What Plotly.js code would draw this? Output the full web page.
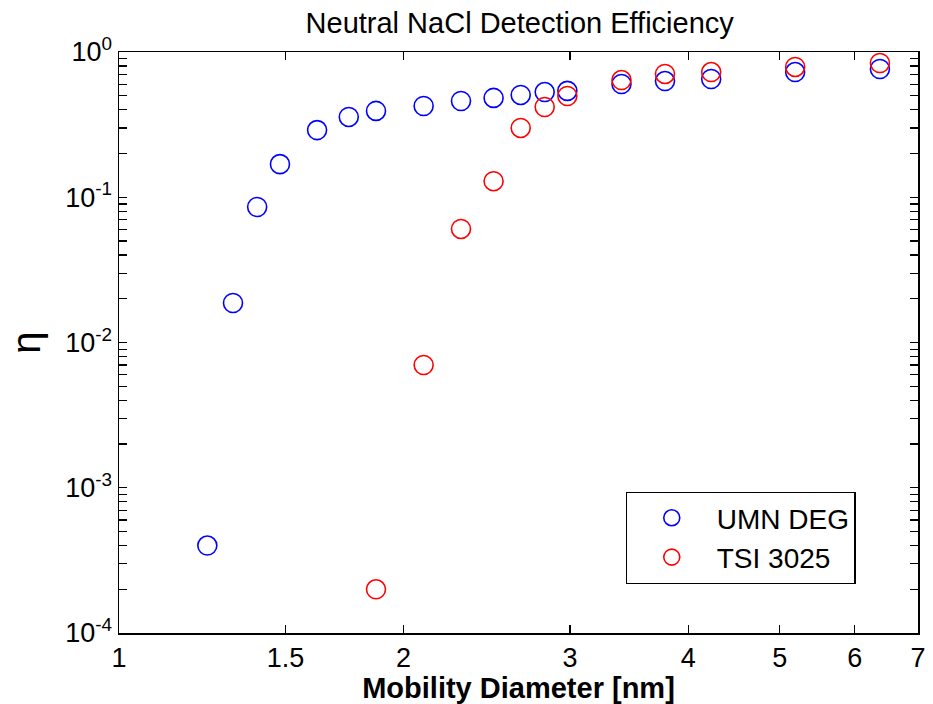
<!DOCTYPE html>
<html>
<head>
<meta charset="utf-8">
<script src="https://cdn.plot.ly/plotly-3.0.1.min.js"></script>
<style>html,body{margin:0;padding:0;background:#fff;}#chart{width:933px;height:704px;}</style>
</head>
<body>
<div id="chart"></div>
<script>
// Data
const umnDiameter = [1.24, 1.32, 1.40, 1.48, 1.62, 1.75, 1.87, 2.10, 2.30, 2.49, 2.66, 2.82, 2.98, 3.40, 3.78, 4.23, 5.19, 6.38];
const umnEff      = [0.0004, 0.0187, 0.0857, 0.169, 0.290, 0.357, 0.393, 0.425, 0.460, 0.483, 0.506, 0.530, 0.540, 0.602, 0.631, 0.652, 0.728, 0.764];
const tsiDiameter = [1.87, 2.10, 2.30, 2.49, 2.66, 2.82, 2.98, 3.40, 3.78, 4.23, 5.19, 6.38];
const tsiEff      = [0.0002, 0.0070, 0.0605, 0.129, 0.300, 0.418, 0.498, 0.641, 0.706, 0.728, 0.789, 0.840];

const xTickVals = [1, 1.5, 2, 3, 4, 5, 6, 7];
const xTickText = ['1', '1.5', '2', '3', '4', '5', '6', '7'];
const yDecades = [-4, -3, -2, -1, 0];

const yTickVals = [];
const yTickText = [];
yDecades.forEach(function (d) {
  for (let m = 1; m <= 9; m++) {
    if (d === 0 && m > 1) break;
    yTickVals.push(m * Math.pow(10, d));
    yTickText.push(m === 1 ? '10<sup>' + (d === 0 ? '0' : '-' + Math.abs(d)) + '</sup>' : '');
  }
});

const font = 'Liberation Sans, Arial, sans-serif';

const traces = [
  {
    x: umnDiameter, y: umnEff, name: 'UMN DEG', type: 'scatter', mode: 'markers', legendgroup: 'a',
    marker: {symbol: 'circle-open', size: 19, color: '#0000ff', line: {width: 1.6, color: '#0000ff'}}
  },
  {
    x: tsiDiameter, y: tsiEff, name: 'TSI 3025', type: 'scatter', mode: 'markers', legendgroup: 'b',
    marker: {symbol: 'circle-open', size: 19, color: '#ff0000', line: {width: 1.6, color: '#ff0000'}}
  }
];

const layout = {
  width: 933, height: 704,
  margin: {l: 119, r: 15, t: 52, b: 71},
  paper_bgcolor: '#fff', plot_bgcolor: '#fff',
  showlegend: true,
  title: {text: 'Neutral NaCl Detection Efficiency', font: {family: font, size: 29, color: '#000'}, x: 0.557, xanchor: 'center', y: 0.968, yanchor: 'middle'},
  xaxis: {
    type: 'log', range: [0, Math.log10(7)],
    tickmode: 'array', tickvals: xTickVals, ticktext: xTickText,
    ticks: 'inside', ticklen: 8, tickwidth: 1.2, tickcolor: '#000',
    showline: true, linecolor: '#000', linewidth: 1.5, mirror: 'allticks',
    showgrid: false, zeroline: false,
    tickfont: {family: font, size: 27, color: '#000'},
    title: {text: '<b>Mobility Diameter [nm]</b>', font: {family: font, size: 29, color: '#000'}, standoff: 1}
  },
  yaxis: {
    type: 'log', range: [-4, 0],
    tickmode: 'array', tickvals: yTickVals, ticktext: yTickText,
    ticks: 'inside', ticklen: 8, tickwidth: 1.2, tickcolor: '#000',
    showline: true, linecolor: '#000', linewidth: 1.5, mirror: 'allticks',
    showgrid: false, zeroline: false,
    tickfont: {family: font, size: 27, color: '#000'},
    title: {text: 'η', font: {family: font, size: 40, color: '#000'}, standoff: 12}
  },
  legend: {
    x: 0.634, y: 0.243, xanchor: 'left', yanchor: 'top',
    bgcolor: '#fff', bordercolor: '#000', borderwidth: 1.2,
    font: {family: font, size: 28, color: '#000'},
    itemwidth: 80, entrywidth: 256, tracegroupgap: 0
  }
};

Plotly.newPlot('chart', traces, layout, {displayModeBar: false, staticPlot: true});
</script>
</body>
</html>
